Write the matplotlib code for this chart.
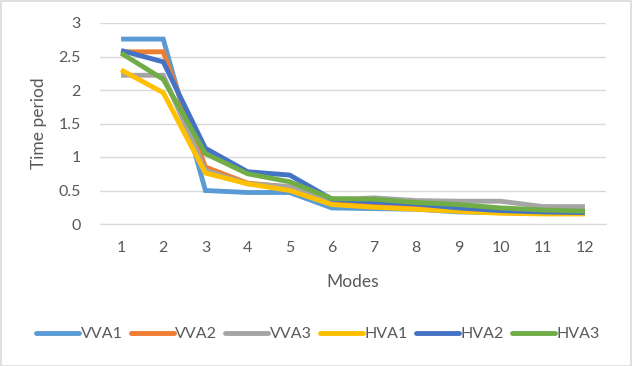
import matplotlib
matplotlib.use("Agg")
import matplotlib.pyplot as plt
from matplotlib.patches import Rectangle

modes = [1, 2, 3, 4, 5, 6, 7, 8, 9, 10, 11, 12]
VVA1 = [2.76, 2.76, 0.50, 0.47, 0.47, 0.24, 0.23, 0.22, 0.18, 0.17, 0.16, 0.16]
VVA2 = [2.57, 2.57, 0.85, 0.61, 0.55, 0.33, 0.29, 0.26, 0.22, 0.19, 0.17, 0.16]
VVA3 = [2.22, 2.22, 0.80, 0.60, 0.56, 0.36, 0.39, 0.35, 0.34, 0.34, 0.26, 0.26]
HVA1 = [2.30, 1.96, 0.76, 0.60, 0.50, 0.29, 0.25, 0.22, 0.19, 0.16, 0.15, 0.15]
HVA2 = [2.59, 2.42, 1.13, 0.78, 0.73, 0.37, 0.33, 0.30, 0.24, 0.20, 0.18, 0.17]
HVA3 = [2.55, 2.16, 1.05, 0.75, 0.63, 0.38, 0.37, 0.32, 0.29, 0.24, 0.21, 0.19]

series = [("VVA1", VVA1, "#5B9BD5"), ("VVA2", VVA2, "#ED7D31"),
          ("VVA3", VVA3, "#A5A5A5"), ("HVA1", HVA1, "#FFC000"),
          ("HVA2", HVA2, "#4472C4"), ("HVA3", HVA3, "#70AD47")]

plt.rcParams['font.family'] = ['Lato', 'DejaVu Sans']

W, H = 632, 366
fig = plt.figure(figsize=(W / 100, H / 100), dpi=100)
fig.patches.append(Rectangle((0.5 / W, 0.5 / H), 1 - 1.5 / W, 1 - 1.5 / H,
                             transform=fig.transFigure, fill=False,
                             edgecolor="#D9D9D9", linewidth=1.2))

ax = fig.add_axes([100 / W, 1 - 224 / H, 506 / W, 201 / H])
for name, vals, col in series:
    ax.plot(modes, vals, color=col, linewidth=3.5, label=name,
            solid_capstyle="butt", solid_joinstyle="miter")

ax.set_xlim(0.5, 12.5)
ax.set_ylim(0, 3)
ax.set_yticks([0, 0.5, 1, 1.5, 2, 2.5, 3])
ax.set_yticklabels(["0", "0.5", "1", "1.5", "2", "2.5", "3"])
ax.set_xticks(modes)
ax.grid(axis="y", color="#D9D9D9", linewidth=1)
ax.set_axisbelow(True)
for s in ["top", "right", "left"]:
    ax.spines[s].set_visible(False)
ax.spines["bottom"].set_color("#D9D9D9")
ax.tick_params(axis="both", length=0, labelsize=11.5, labelcolor="#595959")
ax.tick_params(axis="x", pad=12)
ax.tick_params(axis="y", pad=14)
ax.set_xlabel("Modes", fontsize=12.5, color="#595959", labelpad=14)
ax.set_ylabel("Time period", fontsize=12.5, color="#595959", labelpad=8)

leg = fig.legend(loc="center", bbox_to_anchor=(318 / W, 1 - 334 / H), ncol=6,
                 frameon=False, fontsize=11.5, handlelength=2.7,
                 handletextpad=0.1, columnspacing=0.5)
for t in leg.get_texts():
    t.set_color("#595959")
for l in leg.get_lines():
    l.set_linewidth(3.5)
    l.set_solid_capstyle("round")

fig.savefig("out.png", dpi=100)
